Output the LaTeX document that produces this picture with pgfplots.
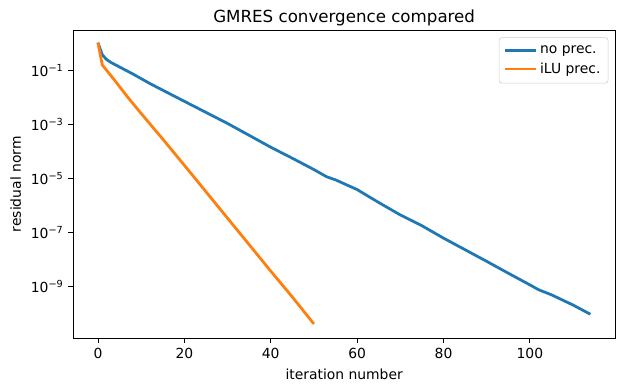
\documentclass[border=0pt]{standalone}
\usepackage{fontspec}
\setmainfont{DejaVu Sans}
\usepackage{pgfplots}
\pgfplotsset{compat=1.18}
\definecolor{mplblue}{HTML}{1F77B4}
\definecolor{mplorange}{HTML}{FF7F0E}
\definecolor{legendgray}{HTML}{CCCCCC}
\begin{document}
\begin{tikzpicture}
\useasboundingbox (-52.8pt,-37.9pt) rectangle (397.2pt,243.6pt);
\begin{axis}[
  at={(0pt,0pt)}, anchor=south west,
  scale only axis, width=390pt, height=222pt,
  xmin=-5.7, xmax=119.7,
  ymode=log, ymin=1.17e-11, ymax=3.1,
  xtick={0,20,40,60,80,100},
  ytick={1e-1,1e-3,1e-5,1e-7,1e-9},
  yticklabels={10\textsuperscript{−1},10\textsuperscript{−3},10\textsuperscript{−5},10\textsuperscript{−7},10\textsuperscript{−9}},
  yminorticks=false,
  tick align=outside, major tick length=3.5pt,
  xtick pos=bottom, ytick pos=left,
  tick style={black, line width=0.6pt},
  axis line style={line width=0.6pt},
  /pgf/number format/assume math mode=true,
  tick label style={font=\fontsize{10}{12}\selectfont},
  every axis title/.style={at={(axis description cs:0.5,1.0248)}, anchor=base, font=\fontsize{12}{14}\selectfont},
  every axis x label/.style={at={(axis description cs:0.5,-0.1329)}, anchor=base, font=\fontsize{10}{12}\selectfont},
  every axis y label/.style={at={(axis description cs:-0.0969,0.5)}, rotate=90, anchor=base, font=\fontsize{10}{12}\selectfont},
  title={GMRES convergence compared},
  xlabel={iteration number},
  ylabel={residual norm},
  legend style={at={(axis description cs:1,1)}, anchor=north east, xshift=-4.8pt, yshift=-5.3pt,
    draw=legendgray, rounded corners=2pt, fill=white, fill opacity=0.8, text opacity=1,
    font=\fontsize{10}{12}\selectfont, inner xsep=3.5pt, inner ysep=3.5pt, row sep=1.5pt},
  legend cell align=left,
  legend image code/.code={\draw[#1] (0pt,0pt) -- (22pt,0pt);},
]
\addplot[mplblue, line width=2pt] coordinates {
(0,1.05) (1,0.372) (2,0.251) (3,0.195) (5,0.132) (8,0.0741) (12,0.0324) (16,0.0151)
(20,7.08e-3) (25,2.75e-3) (30,1.07e-3) (35,3.89e-4) (40,1.41e-4) (45,5.50e-5)
(50,2.09e-5) (53,1.12e-5) (55,8.71e-6) (60,3.80e-6) (65,1.26e-6) (70,4.37e-7)
(75,1.74e-7) (80,6.03e-8) (85,2.24e-8) (90,8.32e-9) (95,3.02e-9) (100,1.12e-9)
(102,7.41e-10) (105,4.79e-10) (110,2.00e-10) (114,9.12e-11)
};
\addlegendentry{no prec.}
\addplot[mplorange, line width=2pt] coordinates {
(0,1.05) (1,0.158) (4,0.0398) (7,9.55e-3) (10,2.51e-3) (15,2.82e-4) (20,3.02e-5)
(25,3.16e-6) (30,3.31e-7) (35,3.47e-8) (40,3.63e-9) (45,3.98e-10) (50,3.98e-11)
};
\addlegendentry{iLU prec.}
\end{axis}
\end{tikzpicture}
\end{document}
